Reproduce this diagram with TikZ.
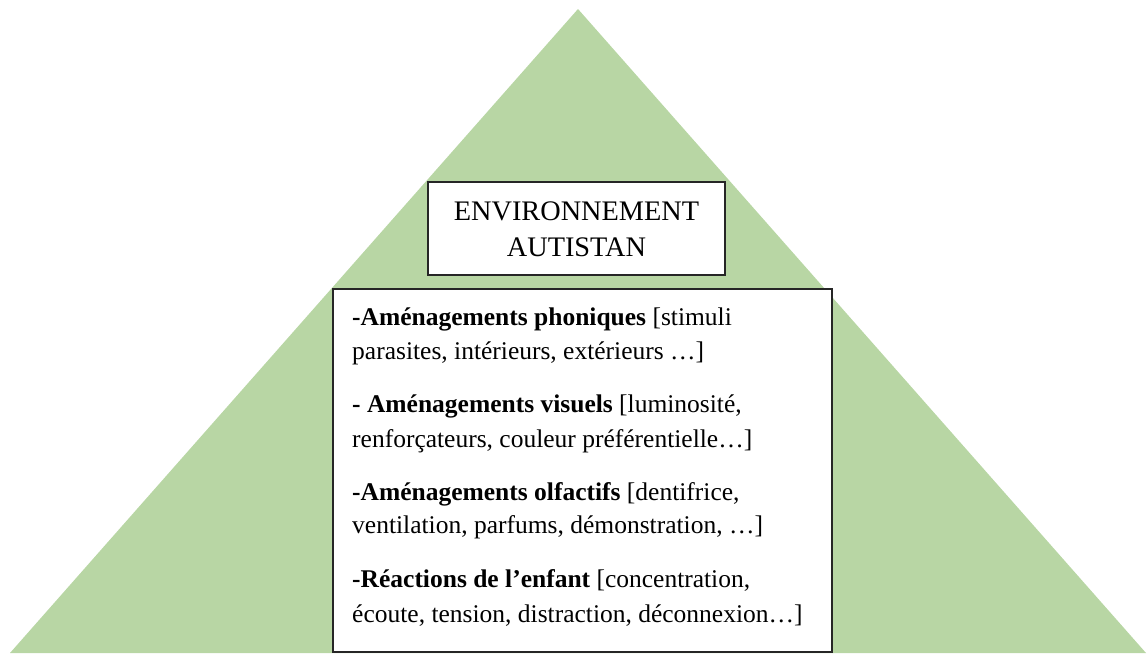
\documentclass[tikz,border=0pt]{standalone}
\usepackage{fontspec}
\setmainfont{Liberation Serif}
\definecolor{pyrgreen}{HTML}{B8D6A4}
\begin{document}
\begin{tikzpicture}[x=1pt,y=-1pt,
  boxline/.style={draw=black!85,line width=1.1pt,fill=white},
  titletext/.style={anchor=base,inner sep=0pt,font=\fontsize{28.3}{32}\selectfont},
  bodytext/.style={anchor=base west,inner sep=0pt,font=\fontsize{25.5}{30}\selectfont}]
\useasboundingbox (0,0) rectangle (1148,653);
% pyramid
\coordinate (apex) at (578,9);
\coordinate (bl) at (10,653);
\coordinate (br) at (1146,653);
\fill[pyrgreen] (apex) -- (bl) -- (br) -- cycle;
% title box
\draw[boxline] (428,182) rectangle (725,275);
\node[titletext] (t1) at (576.5,220) {ENVIRONNEMENT};
\node[titletext] (t2) at (576.5,256) {AUTISTAN};
% content box
\draw[boxline] (333,289) rectangle (832,652);
\node[bodytext] (l1) at (352,325) {\textbf{-Aménagements phoniques} [stimuli};
\node[bodytext] (l2) at (352,359) {parasites, intérieurs, extérieurs …]};
\node[bodytext] (l3) at (352,412) {\textbf{- Aménagements visuels} [luminosité,};
\node[bodytext] (l4) at (352,447) {renforçateurs, couleur préférentielle…]};
\node[bodytext] (l5) at (352,500) {\textbf{-Aménagements olfactifs} [dentifrice,};
\node[bodytext] (l6) at (352,533) {ventilation, parfums, démonstration, …]};
\node[bodytext] (l7) at (352,587) {\textbf{-Réactions de l’enfant} [concentration,};
\node[bodytext] (l8) at (352,622) {écoute, tension, distraction, déconnexion…]};
\end{tikzpicture}
\end{document}
